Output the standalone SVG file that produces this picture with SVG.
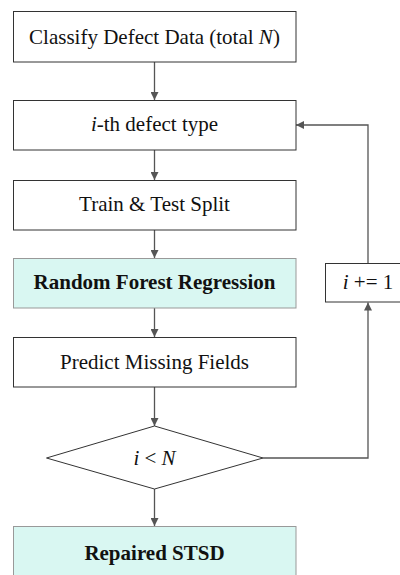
<svg xmlns="http://www.w3.org/2000/svg" width="400" height="575" viewBox="0 0 400 575">
<defs>
<style>
.box{fill:#ffffff;stroke:#333333;stroke-width:1}
.hl{fill:#d9f7f2;stroke:#999999;stroke-width:1}
.t{font-family:"Liberation Serif","Times New Roman",serif;font-size:21px;fill:#111111;text-anchor:middle}
.b{font-weight:bold}
.c{fill:none;stroke:#555555;stroke-width:1.3}
</style>
<marker id="ah" viewBox="0 0 10 10" refX="10" refY="5" markerWidth="8" markerHeight="8" markerUnits="userSpaceOnUse" orient="auto">
<path d="M0,0 L10,5 L0,10 z" fill="#555555"/>
</marker>
</defs>
<rect width="400" height="575" fill="#ffffff"/>
<g id="connectors">
<path class="c" d="M154.5,62 V100" marker-end="url(#ah)"/>
<path class="c" d="M154.5,150 V180" marker-end="url(#ah)"/>
<path class="c" d="M154.5,230 V258" marker-end="url(#ah)"/>
<path class="c" d="M154.5,308 V337" marker-end="url(#ah)"/>
<path class="c" d="M154.5,387 V426" marker-end="url(#ah)"/>
<path class="c" d="M154.5,489 V526" marker-end="url(#ah)"/>
<path class="c" d="M263,458 H368 V302.5" marker-end="url(#ah)"/>
<path class="c" d="M368,263.5 V125 H296" marker-end="url(#ah)"/>
</g>
<g id="classify">
<rect class="box" x="13.5" y="11.5" width="282.5" height="50.5"/>
<text class="t" x="154.5" y="43.5">Classify Defect Data (total <tspan font-style="italic">N</tspan>)</text>
</g>
<g id="ith">
<rect class="box" x="13.5" y="100.5" width="282.5" height="49.5"/>
<text class="t" x="154.5" y="130.5"><tspan font-style="italic">i</tspan>-th defect type</text>
</g>
<g id="split">
<rect class="box" x="13.5" y="180.5" width="282.5" height="49.5"/>
<text class="t" x="154.5" y="210.5">Train &amp; Test Split</text>
</g>
<g id="rfr">
<rect class="hl" x="13.5" y="258.5" width="282.5" height="49.5"/>
<text class="t b" x="154.5" y="289">Random Forest Regression</text>
</g>
<g id="predict">
<rect class="box" x="13.5" y="337.5" width="282.5" height="49.5"/>
<text class="t" x="154.5" y="368.5">Predict Missing Fields</text>
</g>
<g id="decision">
<polygon class="box" points="154.5,426 263,458 154.5,489 46.5,458"/>
<text class="t" x="154.5" y="464.5"><tspan font-style="italic">i</tspan> &lt; <tspan font-style="italic">N</tspan></text>
</g>
<g id="incr">
<rect class="box" x="325.5" y="263.5" width="86" height="38.5"/>
<text class="t" x="368" y="289"><tspan font-style="italic">i</tspan> += 1</text>
</g>
<g id="repaired">
<rect class="hl" x="13.5" y="526.5" width="282.5" height="55"/>
<text class="t b" x="154.5" y="560">Repaired STSD</text>
</g>
</svg>
